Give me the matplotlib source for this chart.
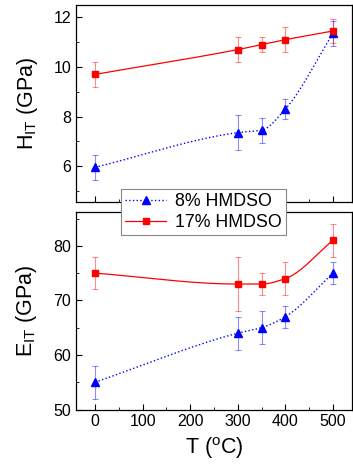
import numpy as np
import matplotlib.pyplot as plt
from matplotlib.ticker import MultipleLocator

plt.rcParams['font.family'] = ['Liberation Sans', 'DejaVu Sans']
plt.rcParams['mathtext.fontset'] = 'custom'
plt.rcParams['mathtext.rm'] = 'Liberation Sans'
plt.rcParams['mathtext.it'] = 'Liberation Sans'

# data
temp = [0, 300, 350, 400, 500]
h_8 = [5.95, 7.35, 7.45, 8.3, 11.35]
h_8_err = [0.5, 0.7, 0.5, 0.4, 0.5]
h_17 = [9.7, 10.7, 10.9, 11.1, 11.45]
h_17_err = [0.5, 0.5, 0.3, 0.5, 0.5]
e_8 = [55, 64, 65, 67, 75]
e_8_err = [3, 3, 3, 2, 2]
e_17 = [75, 73, 73, 74, 81]
e_17_err = [3, 5, 2, 3, 3]


def pchip(x, y, n=200):
    """Shape preserving cubic through the points, used only to draw the line."""
    x = np.asarray(x, float)
    y = np.asarray(y, float)
    h = np.diff(x)
    d = np.diff(y) / h
    m = np.zeros_like(y)
    for k in range(1, len(x) - 1):
        if d[k - 1] * d[k] > 0:
            w1 = 2 * h[k] + h[k - 1]
            w2 = h[k] + 2 * h[k - 1]
            m[k] = (w1 + w2) / (w1 / d[k - 1] + w2 / d[k])
    m[0] = d[0]
    m[-1] = d[-1]
    xs = np.linspace(x[0], x[-1], n)
    idx = np.clip(np.searchsorted(x, xs) - 1, 0, len(x) - 2)
    t = (xs - x[idx]) / h[idx]
    h00 = 2 * t**3 - 3 * t**2 + 1
    h10 = t**3 - 2 * t**2 + t
    h01 = -2 * t**3 + 3 * t**2
    h11 = t**3 - t**2
    ys = h00 * y[idx] + h10 * h[idx] * m[idx] + h01 * y[idx + 1] + h11 * h[idx] * m[idx + 1]
    return xs, ys


fig = plt.figure(figsize=(3.53, 4.66), dpi=100)
ax1 = fig.add_axes([0.2153, 0.5665, 0.7817, 0.4228])
ax2 = fig.add_axes([0.2153, 0.1212, 0.7817, 0.4238])

blue = '#0000ff'
red = '#ff0000'


def draw(ax, y8, e8, y17, e17):
    ax.errorbar(temp, y8, yerr=e8, fmt='none', ecolor=blue, alpha=0.45,
                elinewidth=0.8, capsize=2, capthick=0.8)
    ax.errorbar(temp, y17, yerr=e17, fmt='none', ecolor=red, alpha=0.45,
                elinewidth=0.8, capsize=2, capthick=0.8)
    xs, ys = pchip(temp, y8)
    ax.plot(xs, ys, ':', color=blue, lw=1)
    xs, ys = pchip(temp, y17)
    ax.plot(xs, ys, '-', color=red, lw=0.9)
    ax.plot(temp, y8, '^', color=blue, ms=5.5, ls='none')
    ax.plot(temp, y17, 's', color=red, ms=4.8, ls='none')


draw(ax1, h_8, h_8_err, h_17, h_17_err)
draw(ax2, e_8, e_8_err, e_17, e_17_err)

for ax in (ax1, ax2):
    ax.set_xlim(-40, 540)
    ax.xaxis.set_major_locator(MultipleLocator(100))
    ax.xaxis.set_minor_locator(MultipleLocator(50))
    ax.tick_params(which='both', direction='in', labelsize=11.5)
    ax.tick_params(which='major', length=4)
    ax.tick_params(which='minor', length=2.5)
    for s in ax.spines.values():
        s.set_linewidth(0.9)

ax1.set_ylim(4.55, 12.5)
ax1.yaxis.set_major_locator(MultipleLocator(2))
ax1.yaxis.set_minor_locator(MultipleLocator(1))
ax1.tick_params(axis='x', labelbottom=False)
ax1.set_ylabel(r'H$_{\mathrm{IT}}$ (GPa)', fontsize=15.5, labelpad=10)

ax2.set_ylim(50, 86.2)
ax2.yaxis.set_major_locator(MultipleLocator(10))
ax2.yaxis.set_minor_locator(MultipleLocator(5))
ax2.set_ylabel(r'E$_{\mathrm{IT}}$ (GPa)', fontsize=15.5, labelpad=10)
ax2.set_xlabel(r'T ($^{\mathrm{o}}$C)', fontsize=15.5, labelpad=4)

h1, = ax1.plot([], [], ':', color=blue, lw=1, marker='^', ms=5.5)
h2, = ax1.plot([], [], '-', color=red, lw=0.9, marker='s', ms=4.8)
leg = fig.legend([h1, h2], ['8% HMDSO', '17% HMDSO'], loc='upper left',
                 bbox_to_anchor=(0.342, 0.5944), borderaxespad=0, fontsize=12.8,
                 fancybox=False, edgecolor='#888888', framealpha=1,
                 handlelength=2.3, borderpad=0.25, labelspacing=0.2,
                 handletextpad=0.5)
leg.get_frame().set_linewidth(0.8)
leg.set_zorder(10)

fig.savefig('out.png', dpi=100)
